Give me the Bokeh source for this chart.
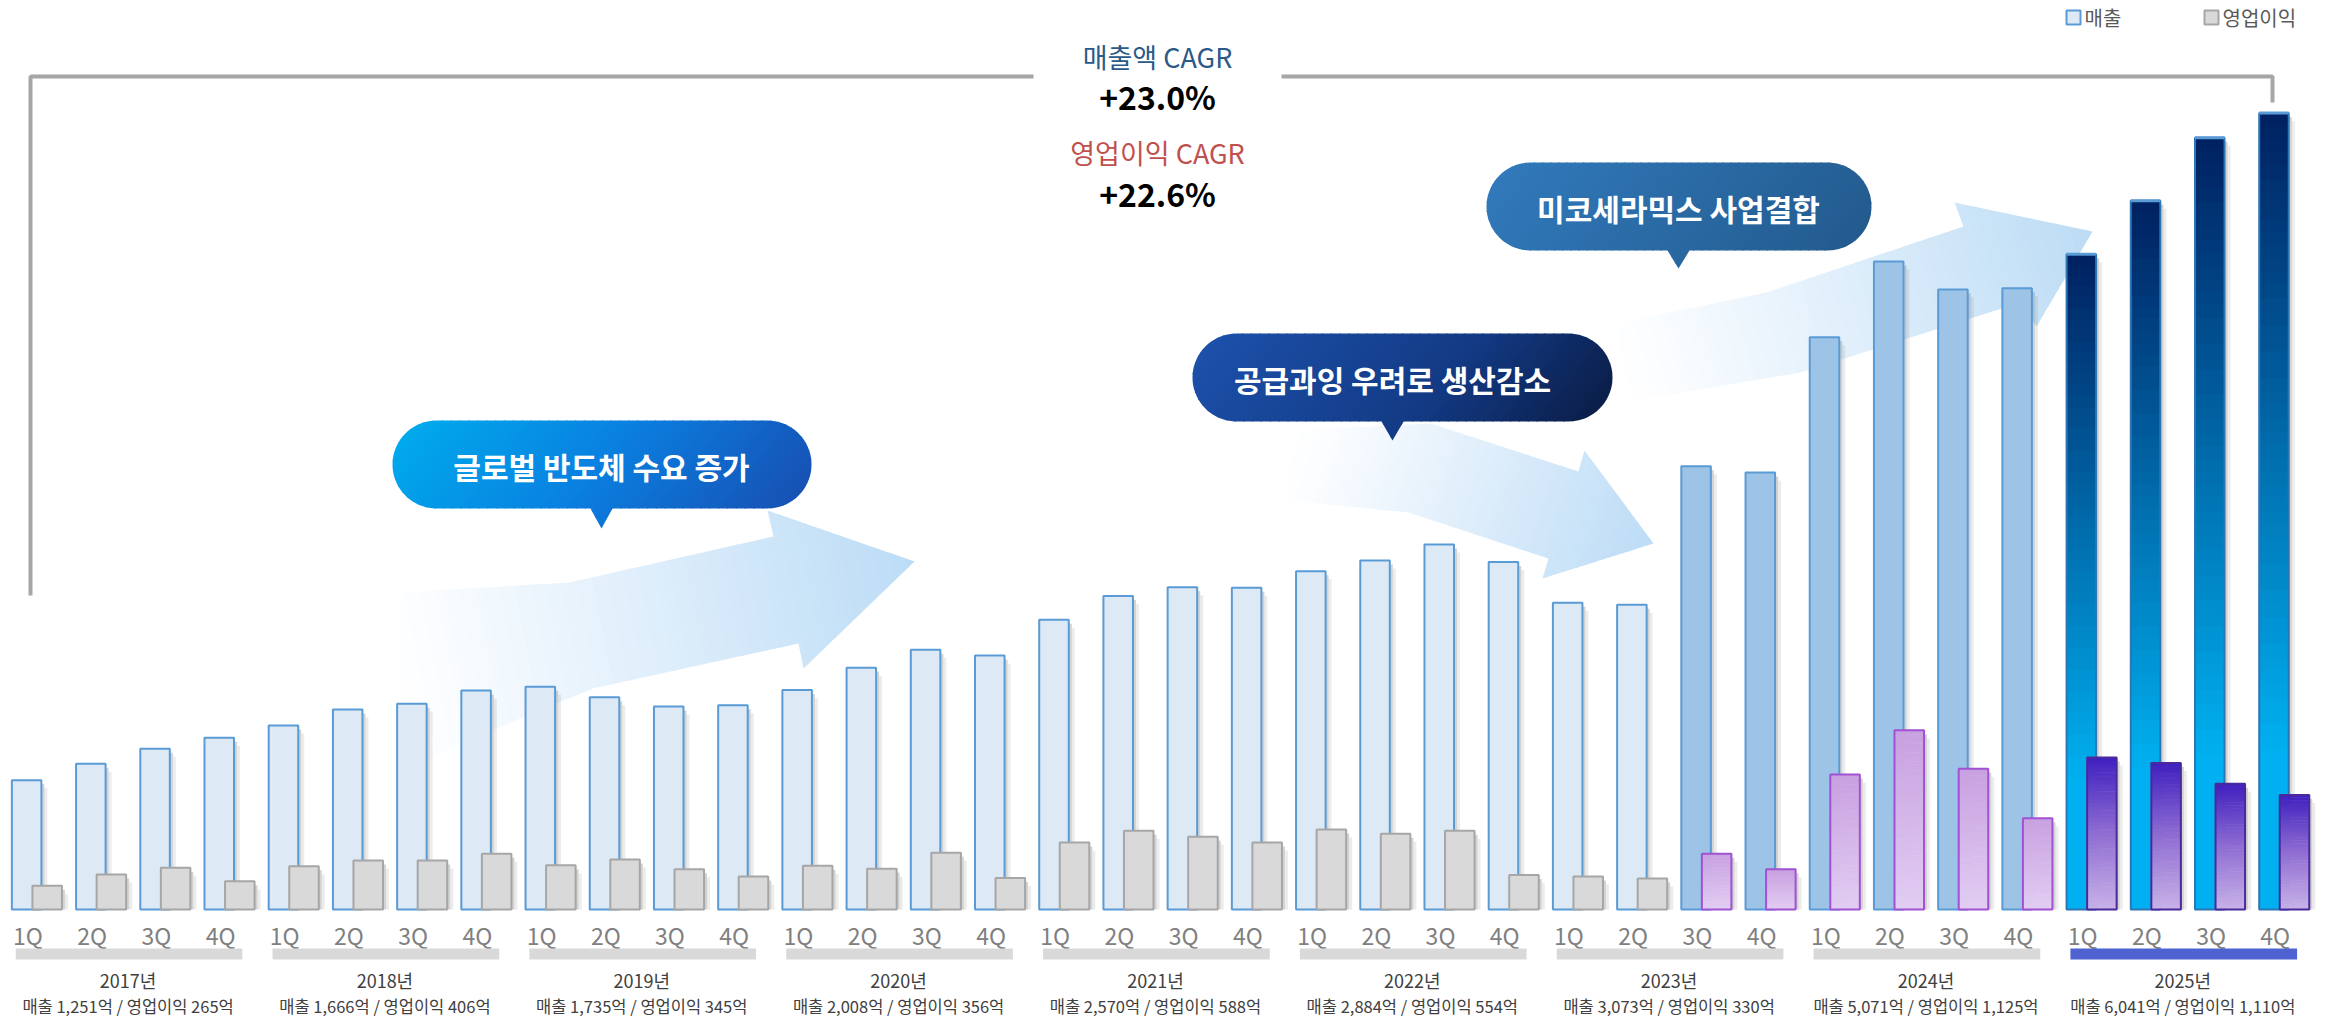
import math
from bokeh.plotting import figure
from bokeh.models import Range1d
from bokeh.core.properties import value
from bokeh.embed import file_html
from bokeh.resources import INLINE

# ---------------- data ----------------
quarter_labels = ["1Q", "2Q", "3Q", "4Q"]
year_labels = ["2017년", "2018년", "2019년", "2020년", "2021년", "2022년", "2023년", "2024년", "2025년"]
revenue = [266, 300, 331, 354, 379, 412, 424, 451, 459, 437, 418, 421,
           452, 498, 535, 523, 597, 646, 664, 663, 697, 719, 752, 716,
           632, 628, 913, 900, 1179, 1335, 1277, 1280, 1350, 1460, 1590, 1641]
op_profit = [49, 72, 86, 58, 89, 101, 101, 115, 91, 103, 83, 68,
             90, 84, 117, 65, 138, 162, 150, 138, 165, 156, 162, 71,
             68, 64, 115, 83, 278, 369, 290, 188, 313, 302, 259, 236]
annual_revenue = [1251, 1666, 1735, 2008, 2570, 2884, 3073, 5071, 6041]
annual_op_profit = [265, 406, 345, 356, 588, 554, 330, 1125, 1110]
cagr_labels = ["매출액 CAGR", "영업이익 CAGR"]
cagr_values = ["+23.0%", "+22.6%"]
callout_texts = ["글로벌 반도체 수요 증가", "공급과잉 우려로 생산감소", "미코세라믹스 사업결합"]
legend_labels = ["매출", "영업이익"]

# ---------------- geometry helpers ----------------
W, H = 2331, 1019
PXU = 64.21          # pixels per quarter
VPP = 2.06           # value units per pixel
X0 = -36.4 / PXU
X1 = X0 + W / PXU
Y1 = 909 * VPP
Y0 = Y1 - H * VPP


def dx(xr):
    return X0 + xr / PXU


def dy(yr):
    return Y1 - yr * VPP


def h2r(h):
    h = h.lstrip("#")
    return tuple(int(h[i:i + 2], 16) for i in (0, 2, 4))


def interp(stops, t):
    t = max(0.0, min(1.0, t))
    for k in range(len(stops) - 1):
        t0, c0 = stops[k]
        t1, c1 = stops[k + 1]
        if t0 <= t <= t1:
            f = 0 if t1 == t0 else (t - t0) / (t1 - t0)
            a, b = h2r(c0), h2r(c1)
            return "#%02x%02x%02x" % tuple(int(round(a[j] + f * (b[j] - a[j]))) for j in range(3))
    return stops[-1][1]


def clip_half(poly, n, c):
    out = []
    L = len(poly)
    for k in range(L):
        A = poly[k]
        B = poly[(k + 1) % L]
        da = A[0] * n[0] + A[1] * n[1] - c
        db = B[0] * n[0] + B[1] * n[1] - c
        if da >= 0:
            out.append(A)
        if (da >= 0) != (db >= 0):
            t = da / (da - db)
            out.append((A[0] + t * (B[0] - A[0]), A[1] + t * (B[1] - A[1])))
    return out


def gradient_poly(p, poly, direction, stops, n=60, overlap=1.2):
    d = math.hypot(*direction)
    u = (direction[0] / d, direction[1] / d)
    s = [q[0] * u[0] + q[1] * u[1] for q in poly]
    smin, smax = min(s), max(s)
    step = (smax - smin) / n
    xs, ys, cols = [], [], []
    for k in range(n):
        a = smin + k * step
        b = a + step + overlap
        piece = clip_half(poly, u, a)
        if len(piece) < 3:
            continue
        piece = clip_half(piece, (-u[0], -u[1]), -b)
        if len(piece) < 3:
            continue
        xs.append([dx(q[0]) for q in piece])
        ys.append([dy(q[1]) for q in piece])
        cols.append(interp(stops, (k + 0.5) / n))
    p.patches(xs, ys, fill_color=cols, line_color=None)


def stadium(L, R, T, B, pc, hw, tip):
    r = (B - T) / 2.0
    cy = (T + B) / 2.0
    pts = []
    for k in range(0, 37):
        a = math.radians(-90 + 5 * k)
        pts.append((R - r + r * math.cos(a), cy + r * math.sin(a)))
    pts += [(pc + hw, B), (pc, tip), (pc - hw, B)]
    for k in range(0, 37):
        a = math.radians(90 + 5 * k)
        pts.append((L + r + r * math.cos(a), cy + r * math.sin(a)))
    return pts


# ---------------- figure ----------------
p = figure(width=W, height=H, x_range=Range1d(X0, X1), y_range=Range1d(Y0, Y1),
           output_backend="svg", toolbar_location=None, min_border=0,
           x_axis_location=None, y_axis_location=None)
p.grid.visible = False
p.outline_line_color = None
p.background_fill_color = "white"
p.border_fill_color = "white"

FONT = value("Noto Sans CJK KR")

# ---------------- background arrows ----------------
arrow1 = [(400, 592), (569, 582), (773, 536), (767, 510), (914, 561), (803, 668),
          (798, 643), (592, 688), (474, 737), (400, 772)]
arrow2 = [(1290, 430), (1430, 423), (1578, 471), (1584, 450), (1653, 543), (1542, 578),
          (1548, 558), (1408, 512), (1290, 500)]
arrow3 = [(1620, 322), (1766, 292), (1963, 226), (1954, 202), (2092, 231), (2036, 326),
          (2020, 302), (1800, 372), (1620, 402)]
gradient_poly(p, arrow1, (1, -0.2), [(0, "#ffffff"), (0.1, "#fbfdff"), (1, "#bcdcf6")], n=70)
gradient_poly(p, arrow2, (1, 0.35), [(0, "#ffffff"), (0.1, "#fbfdff"), (1, "#bddcf6")], n=70)
gradient_poly(p, arrow3, (1, -0.3), [(0, "#ffffff"), (0.1, "#fbfdff"), (1, "#bcdcf5")], n=70)

# ---------------- bars ----------------
nq = len(revenue)
idx = list(range(nq))
phase = [0 if i < 26 else (1 if i < 32 else 2) for i in idx]
BW = 0.46
rev_off, op_off = -0.16, 0.16
sh1, sh2 = 3 / PXU, 6 / PXU
drop = 4 * VPP

# revenue shadows
rl = [i + rev_off + BW / 2 for i in idx]
p.quad(left=rl, right=[v + sh1 for v in rl], bottom=0, top=[v - drop for v in revenue],
       fill_color="#808080", fill_alpha=0.35, line_color=None)
p.quad(left=[v + sh1 for v in rl], right=[v + sh2 for v in rl], bottom=0, top=[v - 2 * drop for v in revenue],
       fill_color="#808080", fill_alpha=0.15, line_color=None)

# revenue plain bars
rev_fill = {0: "#ddeaf6", 1: "#9dc3e6"}
plain = [i for i in idx if phase[i] < 2]
p.quad(left=[i + rev_off - BW / 2 for i in plain], right=[i + rev_off + BW / 2 for i in plain],
       bottom=0, top=[revenue[i] for i in plain], fill_color=[rev_fill[phase[i]] for i in plain],
       line_color="#5b9bd5", line_width=2)

# revenue gradient bars (2025)
rev_stops = [(0, "#00b0f0"), (0.2, "#00b0f0"), (1, "#002060")]
segL, segR, segB, segT, segC = [], [], [], [], []
N = 60
for i in [i for i in idx if phase[i] == 2]:
    v = revenue[i]
    for k in range(N):
        segL.append(i + rev_off - BW / 2)
        segR.append(i + rev_off + BW / 2)
        segB.append(v * k / N)
        segT.append(min(v, v * (k + 1) / N + 1.5))
        segC.append(interp(rev_stops, (k + 0.5) / N))
p.quad(left=segL, right=segR, bottom=segB, top=segT, fill_color=segC, line_color=None)
g = [i for i in idx if phase[i] == 2]
p.quad(left=[i + rev_off - BW / 2 for i in g], right=[i + rev_off + BW / 2 for i in g],
       bottom=0, top=[revenue[i] for i in g], fill_color=None, line_color="#2e75b6", line_width=2)
p.segment(x0=[i + rev_off - BW / 2 for i in g], x1=[i + rev_off + BW / 2 for i in g],
          y0=[revenue[i] for i in g], y1=[revenue[i] for i in g], line_color="#5b9bd5", line_width=3)

# operating profit shadows
ol = [i + op_off + BW / 2 for i in idx]
p.quad(left=ol, right=[v + sh1 for v in ol], bottom=0, top=[v - drop for v in op_profit],
       fill_color="#808080", fill_alpha=0.35, line_color=None)
p.quad(left=[v + sh1 for v in ol], right=[v + sh2 for v in ol], bottom=0, top=[v - 2 * drop for v in op_profit],
       fill_color="#808080", fill_alpha=0.15, line_color=None)

# operating profit plain bars
pl = [i for i in idx if phase[i] == 0]
p.quad(left=[i + op_off - BW / 2 for i in pl], right=[i + op_off + BW / 2 for i in pl],
       bottom=0, top=[op_profit[i] for i in pl], fill_color="#d9d9d9", line_color="#a6a6a6", line_width=2)

# operating profit gradient bars
op_stops = {1: [(0, "#e2cdf3"), (1, "#c8a0e0")],
            2: [(0, "#c8b2e8"), (0.5, "#8f6dd2"), (1, "#3f1fbf")]}
op_line = {1: "#a052d2", 2: "#4a2a9a"}
for ph in (1, 2):
    segL, segR, segB, segT, segC = [], [], [], [], []
    sel = [i for i in idx if phase[i] == ph]
    N = 40
    for i in sel:
        v = op_profit[i]
        for k in range(N):
            segL.append(i + op_off - BW / 2)
            segR.append(i + op_off + BW / 2)
            segB.append(v * k / N)
            segT.append(min(v, v * (k + 1) / N + 1.0))
            segC.append(interp(op_stops[ph], (k + 0.5) / N))
    p.quad(left=segL, right=segR, bottom=segB, top=segT, fill_color=segC, line_color=None)
    p.quad(left=[i + op_off - BW / 2 for i in sel], right=[i + op_off + BW / 2 for i in sel],
           bottom=0, top=[op_profit[i] for i in sel], fill_color=None, line_color=op_line[ph], line_width=2)

# ---------------- x labels ----------------
p.text(x=[i - 0.14 for i in idx], y=[dy(934)] * nq, text=[quarter_labels[i % 4] for i in idx],
       text_font=FONT, text_font_size=value("23px"), text_color="#808080",
       text_align="center", text_baseline="middle")

ny = len(year_labels)
yb_col = ["#d9d9d9"] * (ny - 1) + ["#4f62d2"]
p.quad(left=[4 * k - 0.33 for k in range(ny)], right=[4 * k + 3.2 for k in range(ny)],
       bottom=dy(959), top=dy(948), fill_color=yb_col, line_color=None)
p.text(x=[4 * k + 1.42 for k in range(ny)], y=[dy(979)] * ny, text=year_labels,
       text_font=FONT, text_font_size=value("18px"), text_color="#404040",
       text_align="center", text_baseline="middle")
summ = ["매출 {:,}억 / 영업이익 {:,}억".format(a, b) for a, b in zip(annual_revenue, annual_op_profit)]
p.text(x=[4 * k + 1.42 for k in range(ny)], y=[dy(1005)] * ny, text=summ,
       text_font=FONT, text_font_size=value("16.5px"), text_color="#404040",
       text_align="center", text_baseline="middle")

# ---------------- CAGR bracket ----------------
br_x = [[dx(30), dx(30), dx(1033)], [dx(1281), dx(2272), dx(2272)]]
br_y = [[dy(595), dy(76), dy(76)], [dy(76), dy(76), dy(102)]]
p.multi_line(br_x, br_y, line_color="#a6a6a6", line_width=4)

p.text(x=[dx(1157)], y=[dy(56)], text=[cagr_labels[0]], text_font=FONT, text_font_size=value("27px"),
       text_color="#2b5a88", text_align="center", text_baseline="middle")
p.text(x=[dx(1157)], y=[dy(95)], text=[cagr_values[0]], text_font=FONT, text_font_size=value("32px"),
       text_font_style="bold", text_color="#000000", text_align="center", text_baseline="middle")
p.text(x=[dx(1157)], y=[dy(152)], text=[cagr_labels[1]], text_font=FONT, text_font_size=value("27px"),
       text_color="#c0504d", text_align="center", text_baseline="middle")
p.text(x=[dx(1157)], y=[dy(192)], text=[cagr_values[1]], text_font=FONT, text_font_size=value("32px"),
       text_font_style="bold", text_color="#000000", text_align="center", text_baseline="middle")

# ---------------- callouts ----------------
bubbles = [
    (392, 811, 420, 508, 601, 11, 528, [(0, "#00a9ec"), (0.5, "#0a7fe0"), (1, "#1751b4")], 30),
    (1192, 1612, 333, 421, 1392, 11, 440, [(0, "#1c50aa"), (0.6, "#133a84"), (1, "#0b1e4a")], 30),
    (1486, 1871, 162, 250, 1678, 11, 268, [(0, "#3179ba"), (1, "#235b8f")], 30),
]
for (L, R, T, B, pc, hw, tip, stops, fs), txt in zip(bubbles, callout_texts):
    gradient_poly(p, stadium(L, R, T, B, pc, hw, tip), (1, 0.8), stops, n=50, overlap=1.0)
    p.text(x=[dx(pc)], y=[dy((T + B) / 2 + 1)], text=[txt], text_font=FONT,
           text_font_size=value("%dpx" % fs), text_font_style="bold", text_color="white",
           text_align="center", text_baseline="middle")

# ---------------- legend ----------------
p.quad(left=[dx(2066), dx(2204)], right=[dx(2080), dx(2218)], bottom=[dy(24)] * 2, top=[dy(10)] * 2,
       fill_color=["#ddeaf6", "#d9d9d9"], line_color=["#5b9bd5", "#a6a6a6"], line_width=2)
p.text(x=[dx(2084), dx(2222)], y=[dy(17)] * 2, text=legend_labels, text_font=FONT,
       text_font_size=value("20px"), text_color="#595959", text_align="left", text_baseline="middle")

open("out.html", "w").write(file_html(p, INLINE))
